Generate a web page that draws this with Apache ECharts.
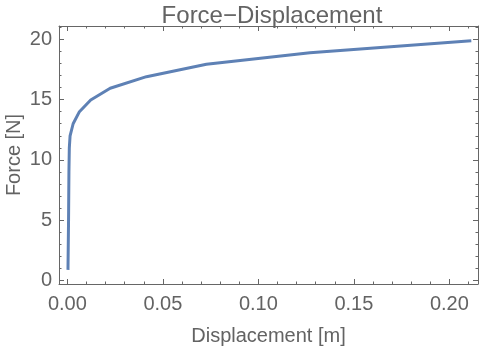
<!DOCTYPE html>
<html>
<head>
<meta charset="utf-8">
<script src="https://cdn.jsdelivr.net/npm/echarts@6/dist/echarts.min.js"></script>
<style>
  html, body { margin: 0; padding: 0; background: #fff; }
  #chart { width: 482px; height: 349px; }
</style>
</head>
<body>
<div id="chart"></div>
<script>
// Displacement [m] and force [N] samples along the load curve
const displacement = [0.0003, 0.0006, 0.0008, 0.0010, 0.0014, 0.0030, 0.0063, 0.0122, 0.0224, 0.0414, 0.0728, 0.1270, 0.2115];
const force        = [0.89,   5.0,    9.0,    11.0,   12.0,   13.0,   14.0,   14.97,  15.94,  16.9,   17.93,  18.89,  19.88];

// Frame ticks
const xMajor = [0, 0.05, 0.10, 0.15, 0.20];
const xMinor = [0.01, 0.02, 0.03, 0.04, 0.06, 0.07, 0.08, 0.09, 0.11, 0.12, 0.13, 0.14, 0.16, 0.17, 0.18, 0.19, 0.21];
const yMajor = [0, 5, 10, 15, 20];
const yMinor = [1, 2, 3, 4, 6, 7, 8, 9, 11, 12, 13, 14, 16, 17, 18, 19, 21];

const titleText = 'Force\u2212Displacement';
const xName = 'Displacement [m]';
const yName = 'Force [N]';

const frameColor = '#666666';
const textColor = '#636363';
const fontFamily = '"Liberation Sans", Arial, Helvetica, sans-serif';

const X_MIN = -0.0044, X_MAX = 0.215;
const Y_MIN = -0.28, Y_MAX = 21.1;

const plotRect = { left: 59, right: 4, top: 26, bottom: 65, containLabel: false, outerBoundsMode: 'none' };

function xAxisDef(grid, pos, ticks, len, withLabels, withLine) {
  return {
    type: 'value', gridIndex: grid, position: pos, min: X_MIN, max: X_MAX,
    splitLine: { show: false },
    axisLine: { show: withLine, onZero: false, lineStyle: { color: frameColor, width: 1 } },
    axisTick: { show: true, inside: true, length: len, customValues: ticks, lineStyle: { color: frameColor, width: 1 } },
    axisLabel: withLabels ? {
      show: true, customValues: ticks, color: textColor, fontSize: 20, fontFamily, margin: 10,
      formatter: v => v.toFixed(2)
    } : { show: false },
    name: withLabels ? xName : '',
    nameLocation: 'middle', nameGap: 42, nameMoveOverlap: false,
    nameTextStyle: { color: textColor, fontSize: 20, fontFamily }
  };
}

function yAxisDef(grid, pos, ticks, len, withLabels, withLine) {
  return {
    type: 'value', gridIndex: grid, position: pos, min: Y_MIN, max: Y_MAX,
    splitLine: { show: false },
    axisLine: { show: withLine, onZero: false, lineStyle: { color: frameColor, width: 1 } },
    axisTick: { show: true, inside: true, length: len, customValues: ticks, lineStyle: { color: frameColor, width: 1 } },
    axisLabel: withLabels ? {
      show: true, customValues: ticks, color: textColor, fontSize: 20, fontFamily, margin: 7,
      formatter: v => String(v)
    } : { show: false },
    name: withLabels ? yName : '',
    nameLocation: 'middle', nameGap: 35, nameRotate: 90, nameMoveOverlap: false,
    nameTextStyle: { color: textColor, fontSize: 20, fontFamily }
  };
}

const chart = echarts.init(document.getElementById('chart'), null, { renderer: 'canvas' });
chart.setOption({
  animation: false,
  backgroundColor: '#ffffff',
  title: {
    text: titleText, left: 267, top: -1, textAlign: 'center',
    textStyle: { color: textColor, fontSize: 24, fontWeight: 'normal', fontFamily }
  },
  // grid 0 carries the data, major ticks and frame; grid 1 the minor ticks
  grid: [Object.assign({}, plotRect), Object.assign({}, plotRect)],
  xAxis: [
    xAxisDef(0, 'bottom', xMajor, 5, true, true),
    xAxisDef(0, 'top', xMajor, 5, false, true),
    xAxisDef(1, 'bottom', xMinor, 2.5, false, false),
    xAxisDef(1, 'top', xMinor, 2.5, false, false)
  ],
  yAxis: [
    yAxisDef(0, 'left', yMajor, 5, true, true),
    yAxisDef(0, 'right', yMajor, 5, false, true),
    yAxisDef(1, 'left', yMinor, 2.5, false, false),
    yAxisDef(1, 'right', yMinor, 2.5, false, false)
  ],
  series: [{
    type: 'line',
    xAxisIndex: 0, yAxisIndex: 0,
    data: displacement.map((d, i) => [d, force[i]]),
    showSymbol: false,
    smooth: false,
    lineStyle: { color: '#5E81B5', width: 3, join: 'round', cap: 'butt' },
    itemStyle: { color: '#5E81B5' }
  }]
});
</script>
</body>
</html>
